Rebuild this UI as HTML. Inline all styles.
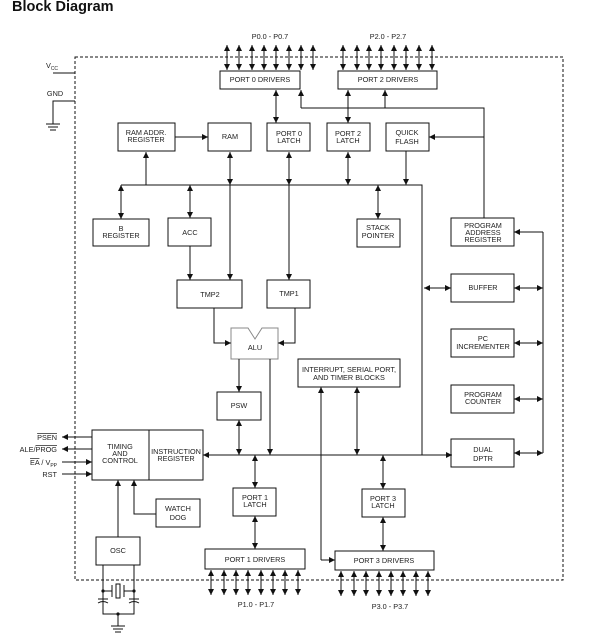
<!DOCTYPE html>
<html><head><meta charset="utf-8"><style>
html,body{margin:0;padding:0;background:#fff;}
svg{display:block;font-family:"Liberation Sans",Arial,sans-serif;}
text{font-size:7.3px;fill:#222;text-anchor:middle;}
</style></head><body>
<svg width="602" height="640" viewBox="0 0 602 640" xmlns="http://www.w3.org/2000/svg">
<defs>
<marker id="a" viewBox="0 0 10 10" refX="10" refY="5" markerWidth="6" markerHeight="6" orient="auto-start-reverse" markerUnits="userSpaceOnUse"><path d="M0,0 L10,5 L0,10 z" fill="#111"/></marker>
</defs>
<text x="12" y="11" style="font-size:14.5px;font-weight:bold;fill:#111;text-anchor:start">Block Diagram</text>

<g fill="none" stroke="#111" stroke-width="1">
<rect x="75" y="57" width="488" height="523" stroke-dasharray="3,2"/>
<path d="M53 73H75M75 101H53V124M46 124H60M48 127H58M50 130H56"/>
<rect x="220" y="71" width="80" height="18"/>
<rect x="338" y="71" width="99" height="18"/>
<rect x="118" y="123" width="57" height="28"/>
<rect x="208" y="123" width="43" height="28"/>
<rect x="267" y="123" width="43" height="28"/>
<rect x="327" y="123" width="43" height="28"/>
<rect x="386" y="123" width="43" height="28"/>
<rect x="93" y="219" width="56" height="27"/>
<rect x="168" y="218" width="43" height="28"/>
<rect x="357" y="219" width="43" height="28"/>
<rect x="177" y="280" width="65" height="28"/>
<rect x="267" y="280" width="43" height="28"/>
<path d="M231 328H248L255 339L262 328H278V359H231Z" stroke="#888"/>
<rect x="217" y="392" width="44" height="28"/>
<rect x="298" y="359" width="102" height="28"/>
<rect x="451" y="218" width="63" height="28"/>
<rect x="451" y="274" width="63" height="28"/>
<rect x="451" y="329" width="63" height="28"/>
<rect x="451" y="385" width="63" height="28"/>
<rect x="451" y="439" width="63" height="28"/>
<rect x="92" y="430" width="111" height="50"/>
<path d="M149 430V480"/>
<rect x="156" y="499" width="44" height="28"/>
<rect x="96" y="537" width="44" height="28"/>
<rect x="233" y="488" width="43" height="28"/>
<rect x="205" y="549" width="100" height="20"/>
<rect x="362" y="489" width="43" height="28"/>
<rect x="335" y="551" width="99" height="19"/>
</g>

<g fill="none" stroke="#111" stroke-width="1" marker-end="url(#a)" marker-start="url(#a)">
<path d="M227 45V70"/><path d="M239 45V70"/><path d="M252 45V70"/><path d="M264 45V70"/><path d="M276 45V70"/><path d="M289 45V70"/><path d="M301 45V70"/><path d="M313 45V70"/>
<path d="M343 45V70"/><path d="M357 45V70"/><path d="M369 45V70"/><path d="M381 45V70"/><path d="M394 45V70"/><path d="M406 45V70"/><path d="M419 45V70"/><path d="M432 45V70"/>
<path d="M211 570V595"/><path d="M224 570V595"/><path d="M236 570V595"/><path d="M248 570V595"/><path d="M261 570V595"/><path d="M273 570V595"/><path d="M285 570V595"/><path d="M298 570V595"/>
<path d="M341 571V596"/><path d="M354 571V596"/><path d="M366 571V596"/><path d="M379 571V596"/><path d="M391 571V596"/><path d="M403 571V596"/><path d="M416 571V596"/><path d="M428 571V596"/>
<path d="M276 90V123"/>
<path d="M348 90V123"/>
<path d="M230 152V185"/>
<path d="M289 152V185"/>
<path d="M348 152V185"/>
<path d="M121 185V219"/>
<path d="M190 185V218"/>
<path d="M378 185V219"/>
<path d="M239 420V455"/>
<path d="M357 387V455"/>
<path d="M203 455H452"/>
<path d="M255 455V488"/>
<path d="M255 516V549"/>
<path d="M383 455V489"/>
<path d="M383 517V551"/>
<path d="M514 288H543"/>
<path d="M514 343H543"/>
<path d="M514 399H543"/>
<path d="M514 453H543"/>
<path d="M424 288H451"/>
</g>
<g fill="none" stroke="#111" stroke-width="1" marker-end="url(#a)">
<path d="M301 108V90"/>
<path d="M385 108V90"/>
<path d="M484 137H429"/>
<path d="M175 137H208"/>
<path d="M146 185V152"/>
<path d="M406 151V185"/>
<path d="M230 185V280"/>
<path d="M289 185V280"/>
<path d="M190 246V280"/>
<path d="M214 308V343H231"/>
<path d="M295 308V343H278"/>
<path d="M239 359V392"/>
<path d="M270 359V455"/>
<path d="M321 560V387"/>
<path d="M321 560H335"/>
<path d="M543 232H514"/>
<path d="M92 437H62"/>
<path d="M92 449H62"/>
<path d="M62 462H92"/>
<path d="M62 474H92"/>
<path d="M118 537V480"/>
<path d="M156 514H134V480"/>
</g>
<g fill="none" stroke="#111" stroke-width="1">
<path d="M301 108H484V218"/>
<path d="M121 185H422V455"/>
<path d="M543 232V453"/>
<path d="M103 565V614H134V565M103 591H112M134 591H124M112 585V597M124 585V597M98 599H108M129 599H139M98 603Q103 600 108 603M129 603Q134 600 139 603M118 614V626M111 626H125M113 629H123M115 632H121"/>
<rect x="116" y="584" width="4" height="14"/>
</g>
<circle cx="103" cy="591" r="1.6" fill="#111"/><circle cx="134" cy="591" r="1.6" fill="#111"/><circle cx="118" cy="614" r="1.6" fill="#111"/>

<text x="270" y="39">P0.0 - P0.7</text>
<text x="388" y="39">P2.0 - P2.7</text>
<text x="256" y="607">P1.0 - P1.7</text>
<text x="390" y="609">P3.0 - P3.7</text>
<text x="52" y="68">V<tspan style="font-size:5px" dy="2">CC</tspan></text>
<text x="55" y="96">GND</text>
<text x="260" y="82">PORT 0 DRIVERS</text>
<text x="388" y="82">PORT 2 DRIVERS</text>
<text x="146" y="135">RAM ADDR.</text><text x="146" y="142">REGISTER</text>
<text x="230" y="139">RAM</text>
<text x="289" y="136">PORT 0</text><text x="289" y="143">LATCH</text>
<text x="348" y="136">PORT 2</text><text x="348" y="143">LATCH</text>
<text x="407" y="135">QUICK</text><text x="407" y="144">FLASH</text>
<text x="121" y="231">B</text><text x="121" y="238">REGISTER</text>
<text x="190" y="235">ACC</text>
<text x="378" y="230">STACK</text><text x="378" y="238">POINTER</text>
<text x="210" y="297">TMP2</text>
<text x="289" y="296">TMP1</text>
<text x="255" y="350">ALU</text>
<text x="239" y="408">PSW</text>
<text x="349" y="372">INTERRUPT, SERIAL PORT,</text><text x="349" y="380">AND TIMER BLOCKS</text>
<text x="483" y="228">PROGRAM</text><text x="483" y="235">ADDRESS</text><text x="483" y="242">REGISTER</text>
<text x="483" y="290">BUFFER</text>
<text x="483" y="341">PC</text><text x="483" y="349">INCREMENTER</text>
<text x="483" y="397">PROGRAM</text><text x="483" y="404">COUNTER</text>
<text x="483" y="452">DUAL</text><text x="483" y="461">DPTR</text>
<text x="120" y="449">TIMING</text><text x="120" y="456">AND</text><text x="120" y="463">CONTROL</text>
<text x="176" y="454">INSTRUCTION</text><text x="176" y="461">REGISTER</text>
<text x="178" y="511">WATCH</text><text x="178" y="520">DOG</text>
<text x="118" y="553">OSC</text>
<text x="255" y="500">PORT 1</text><text x="255" y="507">LATCH</text>
<text x="383" y="501">PORT 3</text><text x="383" y="508">LATCH</text>
<text x="255" y="562">PORT 1 DRIVERS</text>
<text x="384" y="563">PORT 3 DRIVERS</text>
<text x="57" y="440" style="text-anchor:end;text-decoration:overline">PSEN</text>
<text x="57" y="452" style="text-anchor:end">ALE/<tspan style="text-decoration:overline">PROG</tspan></text>
<text x="57" y="465" style="text-anchor:end"><tspan style="text-decoration:overline">EA</tspan> / V<tspan style="font-size:5px" dy="2">PP</tspan></text>
<text x="57" y="477" style="text-anchor:end">RST</text>
</svg>
</body></html>
